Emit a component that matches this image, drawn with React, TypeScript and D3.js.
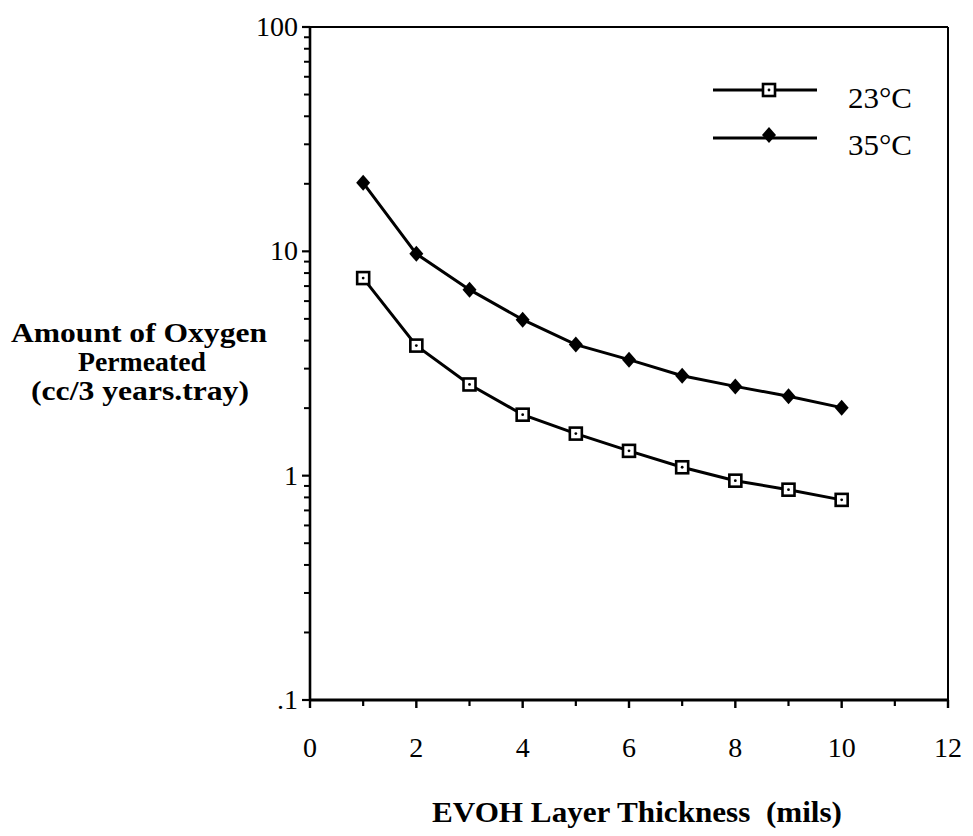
import React from "react";
import * as d3 from "d3";

const thickness = [1, 2, 3, 4, 5, 6, 7, 8, 9, 10];
const oxygen23 = [7.6, 3.8, 2.55, 1.87, 1.54, 1.29, 1.09, 0.95, 0.866, 0.78];
const oxygen35 = [20.2, 9.75, 6.75, 4.96, 3.84, 3.29, 2.79, 2.5, 2.26, 2.01];
const seriesNames = ["23°C", "35°C"];
const xMajorTicks = [0, 2, 4, 6, 8, 10, 12];
const xMinorTicks = [1, 3, 5, 7, 9, 11];
const yMajorTicks = [0.1, 1, 10, 100];
const yTickLabels = [".1", "1", "10", "100"];
const yTitleLines = ["Amount of Oxygen", "Permeated", "(cc/3 years.tray)"];
const xTitle = "EVOH Layer Thickness  (mils)";

const W = 973;
const H = 836;
const FONT = "'Liberation Serif', 'Times New Roman', serif";

export default function App() {
  const x = d3.scaleLinear().domain([0, 12]).range([310, 948]);
  const y = d3.scaleLog().domain([0.1, 100]).range([700, 27]);

  const yMinor: number[] = [];
  [0.1, 1, 10].forEach((d) => {
    for (let k = 2; k <= 9; k++) yMinor.push(d * k);
  });

  const line = d3
    .line<number>()
    .x((_, i) => x(thickness[i]))
    .y((d) => y(d));

  const square = (cx: number, cy: number, key: string) => (
    <g key={key}>
      <rect x={cx - 6} y={cy - 6} width={12} height={12} fill="#fff" stroke="#000" strokeWidth={2.6} />
      <circle cx={cx} cy={cy} r={1.4} fill="#000" />
    </g>
  );
  const diamond = (cx: number, cy: number, key: string) => (
    <path key={key} d={`M${cx},${cy - 8}L${cx + 7},${cy}L${cx},${cy + 8}L${cx - 7},${cy}Z`} fill="#000" />
  );

  const yTitlePos = [
    { cx: 139, y: 342, len: 256 },
    { cx: 142, y: 371, len: 128 },
    { cx: 140, y: 400, len: 218 },
  ];

  return (
    <svg
      width={W}
      height={H}
      style={{ position: "absolute", left: 0, top: 0, background: "#fff" }}
      fontFamily={FONT}
    >
      <rect x={0} y={0} width={W} height={H} fill="#fff" />
      {/* frame */}
      <line x1={310} y1={27} x2={948} y2={27} stroke="#000" strokeWidth={2} />
      <line x1={948} y1={27} x2={948} y2={700} stroke="#000" strokeWidth={2} />
      <line x1={310} y1={26} x2={310} y2={701} stroke="#000" strokeWidth={2.6} />
      <line x1={309} y1={700} x2={949} y2={700} stroke="#000" strokeWidth={3} />

      {/* y ticks */}
      {yMajorTicks.map((t) => (
        <line key={"ym" + t} x1={302} x2={310} y1={y(t)} y2={y(t)} stroke="#000" strokeWidth={2.2} />
      ))}
      {yMinor.map((t) => (
        <line key={"yn" + t} x1={304} x2={310} y1={y(t)} y2={y(t)} stroke="#000" strokeWidth={2} />
      ))}
      {yMajorTicks.map((t, i) => (
        <text key={"yl" + t} x={298} y={y(t) + 9} textAnchor="end" fontSize={28}>
          {yTickLabels[i]}
        </text>
      ))}

      {/* x ticks */}
      {xMajorTicks.map((t) => (
        <line key={"xm" + t} x1={x(t)} x2={x(t)} y1={700} y2={708} stroke="#000" strokeWidth={2.4} />
      ))}
      {xMinorTicks.map((t) => (
        <line key={"xn" + t} x1={x(t)} x2={x(t)} y1={700} y2={706} stroke="#000" strokeWidth={2.2} />
      ))}
      {xMajorTicks.map((t) => (
        <text key={"xl" + t} x={x(t)} y={757} textAnchor="middle" fontSize={28}>
          {t}
        </text>
      ))}

      {/* series */}
      <path d={line(oxygen35) || ""} fill="none" stroke="#000" strokeWidth={3} />
      <path d={line(oxygen23) || ""} fill="none" stroke="#000" strokeWidth={3} />
      {oxygen35.map((v, i) => diamond(x(thickness[i]), y(v), "d" + i))}
      {oxygen23.map((v, i) => square(x(thickness[i]), y(v), "s" + i))}

      {/* legend */}
      <line x1={713} x2={817} y1={90} y2={90} stroke="#000" strokeWidth={3} />
      {square(769, 90, "ls")}
      <text x={848} y={108} fontSize={29} textLength={64} lengthAdjust="spacingAndGlyphs">{seriesNames[0]}</text>
      <line x1={713} x2={817} y1={138} y2={138} stroke="#000" strokeWidth={3} />
      {diamond(769, 135, "ld")}
      <text x={848} y={155} fontSize={29} textLength={64} lengthAdjust="spacingAndGlyphs">{seriesNames[1]}</text>

      {/* y title */}
      <g fontWeight="bold" fontSize={27}>
        {yTitleLines.map((s, i) => (
          <text
            key={"yt" + i}
            x={yTitlePos[i].cx - yTitlePos[i].len / 2}
            y={yTitlePos[i].y}
            textLength={yTitlePos[i].len}
            lengthAdjust="spacingAndGlyphs"
          >
            {s}
          </text>
        ))}
      </g>

      {/* x title */}
      <text
        x={432}
        y={822}
        fontWeight="bold"
        fontSize={29}
        textLength={410}
        lengthAdjust="spacingAndGlyphs"
        style={{ whiteSpace: "pre" }}
      >
        {xTitle}
      </text>
    </svg>
  );
}
